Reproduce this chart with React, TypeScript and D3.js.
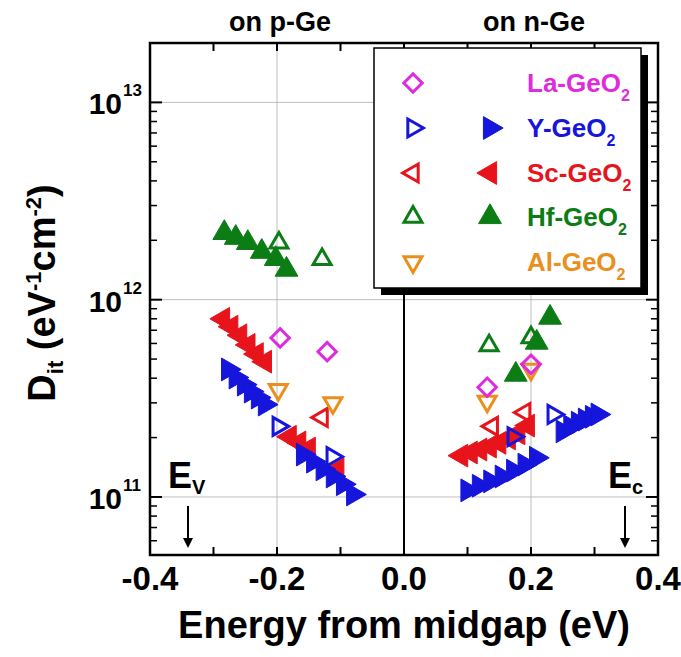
import React from "react";
import * as d3 from "d3";

// Interface trap density vs. energy from midgap for rare-earth / metal doped GeO2
const laOpenE = [-0.195, -0.121, 0.131, 0.2];
const laOpenD = [6.4e11, 5.45e11, 3.6e11, 4.7e11];

const yOpenE = [-0.198, -0.113, 0.172, 0.235];
const yOpenD = [2.28e11, 1.6e11, 2.02e11, 2.62e11];
const yFilledE = [
  -0.277, -0.265, -0.252, -0.241, -0.23, -0.219,
  -0.159, -0.143, -0.128, -0.112, -0.096, -0.08,
  0.1, 0.118, 0.136, 0.154, 0.172, 0.19, 0.208,
  0.25, 0.262, 0.274, 0.285, 0.296, 0.305,
];
const yFilledD = [
  4.43e11, 4.03e11, 3.71e11, 3.42e11, 3.19e11, 2.94e11,
  1.64e11, 1.51e11, 1.38e11, 1.27e11, 1.16e11, 1.03e11,
  1.08e11, 1.14e11, 1.2e11, 1.27e11, 1.36e11, 1.46e11, 1.58e11,
  2.15e11, 2.28e11, 2.38e11, 2.47e11, 2.55e11, 2.62e11,
];

const scOpenE = [-0.129, 0.139, 0.19];
const scOpenD = [2.53e11, 2.28e11, 2.68e11];
const scFilledE = [
  -0.285, -0.272, -0.258, -0.245, -0.232, -0.219,
  -0.18, -0.165, -0.15, -0.105,
  0.09, 0.105, 0.12, 0.135, 0.15, 0.165, 0.18, 0.195,
];
const scFilledD = [
  8.0e11, 7.3e11, 6.6e11, 5.9e11, 5.3e11, 4.85e11,
  2.02e11, 1.89e11, 1.76e11, 1.38e11,
  1.62e11, 1.68e11, 1.74e11, 1.8e11, 1.88e11, 1.98e11, 2.1e11, 2.3e11,
];

const hfOpenE = [-0.197, -0.129, 0.134, 0.2];
const hfOpenD = [1.94e12, 1.6e12, 5.85e11, 6.42e11];
const hfFilledE = [-0.283, -0.265, -0.246, -0.224, -0.202, -0.185, 0.176, 0.209, 0.23];
const hfFilledD = [2.18e12, 2.06e12, 1.94e12, 1.75e12, 1.61e12, 1.42e12, 4.17e11, 6.06e11, 8.11e11];

const alOpenE = [-0.198, -0.112, 0.131, 0.2];
const alOpenD = [3.5e11, 3.0e11, 3.05e11, 4.43e11];

const xTicks = [-0.4, -0.2, 0.0, 0.2, 0.4];
const xTickLabels = ["-0.4", "-0.2", "0.0", "0.2", "0.4"];
const xMinorTicks = [-0.3, -0.1, 0.1, 0.3];
const yDecades = [11, 12, 13];
const yDecadeLabels = ["11", "12", "13"];
const panelTitles = ["on p-Ge", "on n-Ge"];
const panelCenters = [-0.2, 0.2];
const legendNames = ["La", "Y", "Sc", "Hf", "Al"];

const COLORS: Record<string, string> = {
  La: "#dd2bdd",
  Y: "#1515dc",
  Sc: "#e8141c",
  Hf: "#0c7c14",
  Al: "#ea8f1e",
};

const FONT = "'Liberation Sans', Arial, sans-serif";

const W = 681;
const H = 657;
const left = 150;
const right = 658;
const top = 43;
const bottom = 555;

const x = d3.scaleLinear().domain([-0.4, 0.4]).range([left, right]);
const y = d3.scaleLog().domain([5.08e10, 2.0e13]).range([bottom, top]);

type Shape = "diamond" | "up" | "down" | "left" | "right";

const triOpen = d3.symbol().type(d3.symbolTriangle).size(140)();
const triFilled = d3.symbol().type(d3.symbolTriangle).size(225)();
const square = d3.symbol().type(d3.symbolSquare).size(170)();

const rot: Record<Shape, number> = { up: 0, right: 90, down: 180, left: -90, diamond: 45 };

function Marker({ cx, cy, shape, color, filled }: { cx: number; cy: number; shape: Shape; color: string; filled: boolean }) {
  const d = shape === "diamond" ? square : filled ? triFilled : triOpen;
  return (
    <path
      d={d as string}
      transform={`translate(${cx},${cy}) rotate(${rot[shape]})`}
      fill={filled ? color : "none"}
      stroke={color}
      strokeWidth={filled ? 1 : 3}
      strokeLinejoin="miter"
    />
  );
}

function Series({ es, ds, shape, color, filled }: { es: number[]; ds: number[]; shape: Shape; color: string; filled: boolean }) {
  return (
    <g>
      {es.map((e, i) => (
        <Marker key={i} cx={x(e)} cy={y(ds[i])} shape={shape} color={color} filled={filled} />
      ))}
    </g>
  );
}

export default function App() {
  const minorY: number[] = [];
  for (let p = 10; p <= 13; p++) {
    for (let m = 2; m <= 9; m++) {
      const v = m * Math.pow(10, p);
      if (v >= y.domain()[0] && v <= y.domain()[1]) minorY.push(v);
    }
  }

  const legendRows = [83, 128, 173, 217, 262];
  const legendShapes: Shape[] = ["diamond", "right", "left", "up", "down"];
  const legendHasFilled = [false, true, true, true, false];

  return (
    <svg width={W} height={H} style={{ position: "absolute", left: 0, top: 0, background: "#fff" }} fontFamily={FONT}>
      <rect x={0} y={0} width={W} height={H} fill="#fff" />

      {/* grid */}
      {[-0.2, 0.2].map((v) => (
        <line key={v} x1={x(v)} x2={x(v)} y1={top} y2={bottom} stroke="#bdbdbd" strokeWidth={1} />
      ))}
      {yDecades.map((p) => (
        <line key={p} x1={left} x2={right} y1={y(Math.pow(10, p))} y2={y(Math.pow(10, p))} stroke="#bdbdbd" strokeWidth={1} />
      ))}
      <line x1={x(0)} x2={x(0)} y1={top} y2={bottom} stroke="#000" strokeWidth={2} />

      {/* ticks */}
      {xTicks.concat(xMinorTicks).map((v) => (
        <g key={v}>
          <line x1={x(v)} x2={x(v)} y1={bottom} y2={bottom - 8} stroke="#000" strokeWidth={2} />
          <line x1={x(v)} x2={x(v)} y1={top} y2={top + 8} stroke="#000" strokeWidth={2} />
        </g>
      ))}
      {yDecades.map((p) => (
        <g key={p}>
          <line x1={left} x2={left + 12} y1={y(Math.pow(10, p))} y2={y(Math.pow(10, p))} stroke="#000" strokeWidth={2} />
          <line x1={right} x2={right - 12} y1={y(Math.pow(10, p))} y2={y(Math.pow(10, p))} stroke="#000" strokeWidth={2} />
        </g>
      ))}
      {minorY.map((v) => (
        <g key={v}>
          <line x1={left} x2={left + 7} y1={y(v)} y2={y(v)} stroke="#000" strokeWidth={1.5} />
          <line x1={right} x2={right - 7} y1={y(v)} y2={y(v)} stroke="#000" strokeWidth={1.5} />
        </g>
      ))}

      {/* data: filled first, open markers on top */}
      <Series es={hfFilledE} ds={hfFilledD} shape="up" color={COLORS.Hf} filled />
      <Series es={scFilledE} ds={scFilledD} shape="left" color={COLORS.Sc} filled />
      <Series es={yFilledE} ds={yFilledD} shape="right" color={COLORS.Y} filled />
      <Series es={scOpenE} ds={scOpenD} shape="left" color={COLORS.Sc} filled={false} />
      <Series es={yOpenE} ds={yOpenD} shape="right" color={COLORS.Y} filled={false} />
      <Series es={hfOpenE} ds={hfOpenD} shape="up" color={COLORS.Hf} filled={false} />
      <Series es={alOpenE} ds={alOpenD} shape="down" color={COLORS.Al} filled={false} />
      <Series es={laOpenE} ds={laOpenD} shape="diamond" color={COLORS.La} filled={false} />

      {/* frame */}
      <rect x={left} y={top} width={right - left} height={bottom - top} fill="none" stroke="#000" strokeWidth={2.5} />

      {/* legend */}
      <rect x={381} y={55} width={267} height={240} fill="#000" />
      <rect x={374} y={48} width={267} height={240} fill="#fff" stroke="#000" strokeWidth={1.5} />
      {legendNames.map((n, i) => (
        <g key={n}>
          <Marker cx={413} cy={legendRows[i]} shape={legendShapes[i]} color={COLORS[n]} filled={false} />
          {legendHasFilled[i] && <Marker cx={490} cy={legendRows[i]} shape={legendShapes[i]} color={COLORS[n]} filled />}
          <text x={527} y={legendRows[i] + 9} fill={COLORS[n]} fontSize={26} fontWeight="bold">
            {n}-GeO
            <tspan fontSize={16} dy={9}>2</tspan>
          </text>
        </g>
      ))}

      {/* panel titles */}
      {panelTitles.map((t, i) => (
        <text key={t} x={x(panelCenters[i]) + 3} y={31} textAnchor="middle" fontSize={27} fontWeight="bold">
          {t}
        </text>
      ))}

      {/* band edges */}
      <text x={168} y={488} fontSize={36} fontWeight="bold">
        E<tspan fontSize={20} dy={6}>V</tspan>
      </text>
      <line x1={188} x2={188} y1={506} y2={545} stroke="#000" strokeWidth={2} />
      <path d="M183,538 L188,548 L193,538 Z" fill="#000" />
      <text x={608} y={488} fontSize={36} fontWeight="bold">
        E<tspan fontSize={20} dy={6}>c</tspan>
      </text>
      <line x1={625} x2={625} y1={506} y2={545} stroke="#000" strokeWidth={2} />
      <path d="M620,538 L625,548 L630,538 Z" fill="#000" />

      {/* x tick labels */}
      {xTicks.map((v, i) => (
        <text key={v} x={x(v)} y={590} textAnchor="middle" fontSize={33} fontWeight="bold">
          {xTickLabels[i]}
        </text>
      ))}
      <text x={x(0)} y={638} textAnchor="middle" fontSize={38} fontWeight="bold">
        Energy from midgap (eV)
      </text>

      {/* y tick labels */}
      {yDecades.map((p) => (
        <text key={p} x={122} y={y(Math.pow(10, p)) + 12} textAnchor="end" fontSize={30} fontWeight="bold">
          10
        </text>
      ))}
      {yDecades.map((p, i) => (
        <text key={"e" + p} x={123} y={y(Math.pow(10, p)) - 6} fontSize={17} fontWeight="bold">
          {yDecadeLabels[i]}
        </text>
      ))}

      {/* y title */}
      <text transform="translate(55,293) rotate(-90)" textAnchor="middle" fontSize={38} fontWeight="bold">
        D<tspan fontSize={22} dy={8}>it</tspan>
        <tspan dy={-8}> (eV</tspan>
        <tspan fontSize={22} dy={-14}>-1</tspan>
        <tspan dy={14}>cm</tspan>
        <tspan fontSize={22} dy={-14}>-2</tspan>
        <tspan dy={14}>)</tspan>
      </text>
    </svg>
  );
}
